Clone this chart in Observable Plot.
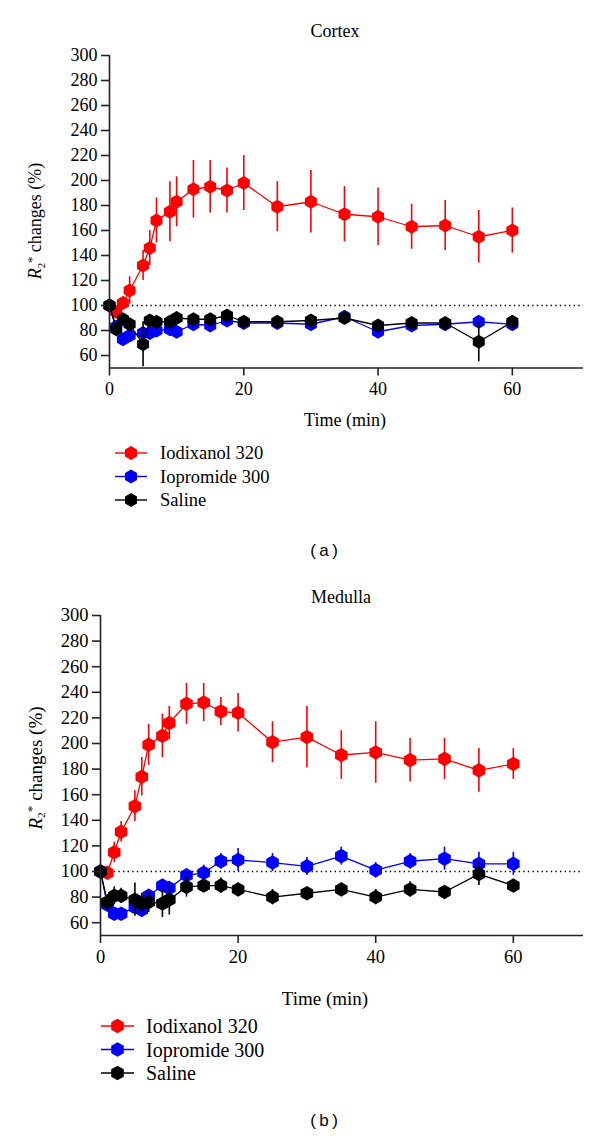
<!DOCTYPE html>
<html><head><meta charset="utf-8">
<script src="https://cdn.jsdelivr.net/npm/d3@7"></script>
<script src="https://cdn.jsdelivr.net/npm/@observablehq/plot@0.6"></script>
<style>
body{margin:0;background:#fff;}
#root{position:relative;width:600px;height:1136px;font-family:"Liberation Serif",serif;color:#000;overflow:hidden;}
#root svg, #root svg text{font-family:"Liberation Serif",serif !important;}
.pa svg text{font-size:18px !important;}
.pb svg text{font-size:18.5px !important;}
.abs{position:absolute;white-space:nowrap;line-height:1;font-family:"Liberation Serif",serif;}
.c{transform:translate(-50%,-50%);}
.yl{transform:translate(-50%,-50%) rotate(-90deg);}
.yl sub{font-size:0.6em;vertical-align:-0.3em;}
.yl sup{font-size:0.7em;vertical-align:0.45em;}
</style></head><body><div id="root"></div>
<script>
// ---- data ----
const times = [0, 1, 2, 3, 5, 6, 7, 9, 10, 12.5, 15, 17.5, 20, 25, 30, 35, 40, 45, 50, 55, 60];
const seriesNames = ["Iodixanol 320", "Iopromide 300", "Saline"];
const seriesColors = ["#ff0000", "#0000ff", "#000000"];
const yTicks = [60, 80, 100, 120, 140, 160, 180, 200, 220, 240, 260, 280, 300];
const xTicks = [0, 20, 40, 60];

// (a) Cortex
const cortexIodixanol    = [100, 95, 102, 112, 132, 146, 168, 175, 183, 193, 195, 192, 198, 179, 183, 173, 171, 163, 164, 155, 160];
const cortexIodixanolErr = [0, 4, 5, 11, 12, 14, 18, 24, 20, 23, 21, 18, 22, 20, 25, 22, 23, 18, 20, 21, 18];
const cortexIopromide    = [100, 83, 73, 76, 78, 78, 80, 81, 79, 85, 84, 88, 86, 86, 85, 91, 79, 84, 85, 87, 85];
const cortexIopromideErr = [0, 3, 3, 3, 4, 3, 3, 3, 3, 3, 3, 3, 3, 3, 3, 3, 3, 3, 3, 3, 3];
const cortexSaline       = [100, 81, 89, 85, 69, 88, 87, 87, 90, 89, 89, 92, 87, 87, 88, 90, 84, 86, 86, 71, 87];
const cortexSalineErr    = [0, 4, 4, 4, 18, 3, 3, 3, 3, 3, 3, 3, 3, 3, 3, 3, 3, 3, 3, 16, 3];

// (b) Medulla
const medullaIodixanol    = [100, 99, 115, 131, 151, 174, 199, 206, 216, 231, 232, 225, 224, 201, 205, 191, 193, 187, 188, 179, 184];
const medullaIodixanolErr = [0, 5, 8, 8, 12, 15, 16, 17, 13, 16, 15, 11, 15, 16, 24, 19, 24, 17, 16, 17, 12];
const medullaIopromide    = [100, 74, 67, 67, 72, 70, 81, 89, 87, 97, 99, 108, 109, 107, 104, 112, 101, 108, 110, 106, 106];
const medullaIopromideErr = [0, 5, 4, 4, 5, 5, 5, 4, 5, 5, 6, 6, 9, 7, 7, 7, 6, 6, 9, 9, 9];
const medullaSaline       = [100, 76, 81, 81, 78, 75, 76, 75, 78, 88, 89, 89, 86, 80, 83, 86, 80, 86, 84, 98, 89];
const medullaSalineErr    = [0, 6, 7, 6, 13, 8, 8, 11, 12, 8, 5, 6, 5, 6, 4, 5, 6, 6, 3, 9, 4];

// ---- helpers ----
const root = document.getElementById("root");
function place(html, x, y, cls, style) {
  const d = document.createElement("div");
  d.className = "abs " + (cls || "");
  d.style.left = x + "px"; d.style.top = y + "px";
  Object.assign(d.style, style || {});
  d.innerHTML = html;
  root.appendChild(d);
  return d;
}
function rows(vals, errs, name) {
  return times.map((t, i) => ({t, v: vals[i], e: errs[i], name}));
}
function hexPath(r) {
  const rx = r, ry = r * 2 / Math.sqrt(3), hy = ry / 2;
  return `M0,${ry}L${rx},${hy}L${rx},${-hy}L0,${-ry}L${-rx},${-hy}L${-rx},${hy}Z`;
}

function panel(cfg) {
  const groups = cfg.series.map((s, k) => rows(s[0], s[1], seriesNames[k]));
  const marks = [
    Plot.ruleY([100], {x1: 0, x2: cfg.xMax, stroke: "#000", strokeWidth: 1.3, strokeDasharray: "1.4,3.2"})
  ];
  groups.forEach((g, k) => {
    const c = seriesColors[k];
    marks.push(Plot.ruleX(g.filter(d => d.e > 0), {x: "t", y1: d => d.v - d.e, y2: d => d.v + d.e, stroke: c, strokeWidth: 1.6}));
    marks.push(Plot.line(g, {x: "t", y: "v", stroke: c, strokeWidth: 1.3}));
    marks.push(Plot.dot(g, {x: "t", y: "v", fill: c, stroke: "none", symbol: "hexagon", r: cfg.r}));
  });
  marks.push(Plot.ruleX([0], {y1: 50, y2: 300, stroke: "#222", strokeWidth: 1.6}));
  marks.push(Plot.ruleY([50], {x1: 0, x2: cfg.xMax, stroke: "#222", strokeWidth: 1.6}));
  marks.push(Plot.axisY(yTicks, {tickSize: 8, tickPadding: 4, strokeWidth: 1.6, stroke: "#222", fontSize: cfg.fs, label: null}));
  marks.push(Plot.axisX(xTicks, {tickSize: 8, tickPadding: 6, strokeWidth: 1.6, stroke: "#222", fontSize: cfg.fs, label: null}));
  const chart = Plot.plot({
    width: 600,
    height: cfg.marginTop + cfg.plotH + cfg.marginBottom,
    marginTop: cfg.marginTop, marginBottom: cfg.marginBottom,
    marginLeft: cfg.marginLeft, marginRight: cfg.marginRight,
    style: {fontFamily: "Liberation Serif", fontSize: cfg.fs + "px", color: "#000", background: "transparent", overflow: "visible"},
    x: {domain: [0, cfg.xMax], label: null},
    y: {domain: [50, 300], label: null},
    marks
  });
  const holder = place("", 0, cfg.svgTop, cfg.cls);
  holder.appendChild(chart);

  // texts
  place(cfg.title, cfg.titleX, cfg.titleY, "c", {fontSize: cfg.titleFs + "px"});
  place('<i>R</i><sub>2</sub><sup>*</sup> changes (%)', cfg.ylX, cfg.ylY, "yl", {fontSize: cfg.ylFs + "px"});
  place("Time (min)", cfg.xlX, cfg.xlY, "c", {fontSize: cfg.xlFs + "px"});
  place(cfg.tag, 324, cfg.tagY, "c", {fontSize: "17px", fontFamily: "'Liberation Sans', Arial, sans-serif"});

  // legend
  const lg = d3.select(root).append("svg")
    .attr("width", 420).attr("height", 80)
    .style("position", "absolute").style("left", "0px").style("top", (cfg.legY - 10) + "px");
  seriesNames.forEach((n, k) => {
    const y = 10 + k * cfg.legStep;
    const g = lg.append("g");
    g.append("line").attr("x1", cfg.legX1).attr("x2", cfg.legX2).attr("y1", y).attr("y2", y)
      .attr("stroke", seriesColors[k]).attr("stroke-width", 1.4);
    g.append("path").attr("d", hexPath(cfg.r)).attr("transform", `translate(${(cfg.legX1 + cfg.legX2) / 2},${y})`)
      .attr("fill", seriesColors[k]);
    g.append("text").attr("x", cfg.legTextX).attr("y", y).attr("dy", "0.35em")
      .style("font-family", "'Liberation Serif', serif").style("font-size", cfg.legFs + "px").text(n);
  });
}

panel({
  cls: "pa",
  series: [[cortexIodixanol, cortexIodixanolErr], [cortexIopromide, cortexIopromideErr], [cortexSaline, cortexSalineErr]],
  svgTop: 45, marginTop: 10, plotH: 312.5, marginBottom: 30, marginLeft: 109, marginRight: 17, xMax: 70.6,
  r: 6, fs: 18, title: "Cortex", titleX: 335, titleY: 31, titleFs: 18,
  ylX: 36, ylY: 221, ylFs: 18, xlX: 345, xlY: 420, xlFs: 18, tag: "(&thinsp;a&thinsp;)", tagY: 550,
  legY: 453, legStep: 23.5, legX1: 115, legX2: 147, legTextX: 160, legFs: 18.5
});
panel({
  cls: "pb",
  series: [[medullaIodixanol, medullaIodixanolErr], [medullaIopromide, medullaIopromideErr], [medullaSaline, medullaSalineErr]],
  svgTop: 605, marginTop: 10, plotH: 320, marginBottom: 30, marginLeft: 100, marginRight: 17, xMax: 70.2,
  r: 6.3, fs: 18.5, title: "Medulla", titleX: 341, titleY: 597, titleFs: 18,
  ylX: 36, ylY: 768, ylFs: 19, xlX: 325, xlY: 998, xlFs: 19, tag: "(&thinsp;b&thinsp;)", tagY: 1120,
  legY: 1026, legStep: 23.5, legX1: 101, legX2: 134, legTextX: 146, legFs: 20
});
</script></body></html>
